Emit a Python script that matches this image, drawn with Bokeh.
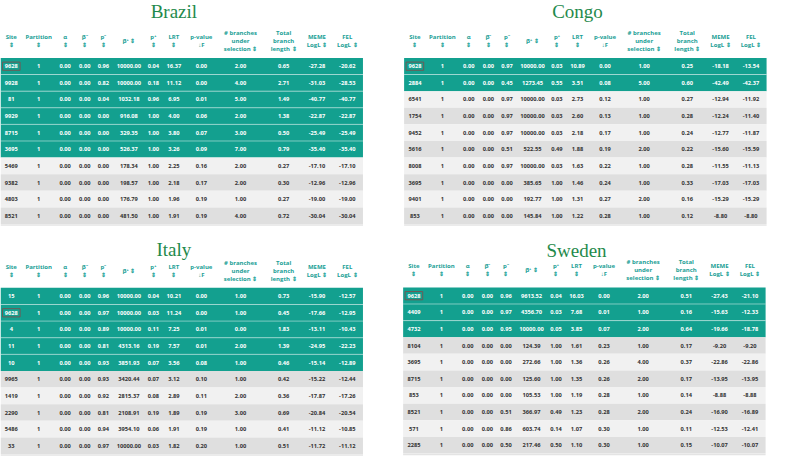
from bokeh.plotting import figure
from bokeh.models import Range1d, ColumnDataSource
from bokeh.embed import file_html
from bokeh.resources import INLINE
from bokeh.core.properties import value

# ---------------- data ----------------
headers = [["Site", "⇕"], ["Partition", "⇕"], ["α", "⇕"], ["β⁻", "⇕"], ["p⁻", "⇕"],
           ["β⁺ ⇕"], ["p⁺", "⇕"], ["LRT", "⇕"], ["p-value", "↓F"],
           ["# branches", "under", "selection ⇕"], ["Total", "branch", "length ⇕"],
           ["MEME", "LogL ⇕"], ["FEL", "LogL ⇕"]]

brazil_site = [9628, 9928, 81, 9929, 8715, 3695, 5469, 9382, 4803, 8521]
brazil_partition = [1, 1, 1, 1, 1, 1, 1, 1, 1, 1]
brazil_alpha = [0.00] * 10
brazil_beta_minus = [0.00] * 10
brazil_p_minus = [0.96, 0.82, 0.04, 0.00, 0.00, 0.00, 0.00, 0.00, 0.00, 0.00]
brazil_beta_plus = [10000.00, 10000.00, 1032.18, 916.08, 329.35, 526.37, 178.34, 198.57, 176.79, 481.50]
brazil_p_plus = [0.04, 0.18, 0.96, 1.00, 1.00, 1.00, 1.00, 1.00, 1.00, 1.00]
brazil_lrt = [16.37, 11.12, 6.95, 4.00, 3.80, 3.26, 2.25, 2.18, 1.96, 1.91]
brazil_pvalue = [0.00, 0.00, 0.01, 0.06, 0.07, 0.09, 0.16, 0.17, 0.19, 0.19]
brazil_branches = [2.00, 4.00, 5.00, 2.00, 3.00, 7.00, 2.00, 2.00, 1.00, 4.00]
brazil_length = [0.65, 2.71, 1.49, 1.38, 0.50, 0.79, 0.27, 0.30, 0.27, 0.72]
brazil_meme = [-27.28, -31.03, -40.77, -22.87, -25.49, -35.40, -17.10, -12.96, -19.00, -30.04]
brazil_fel = [-20.62, -28.53, -40.77, -22.87, -25.49, -35.40, -17.10, -12.96, -19.00, -30.04]

congo_site = [9628, 2884, 6541, 1754, 9452, 5616, 8008, 3695, 9401, 853]
congo_partition = [1, 1, 1, 1, 1, 1, 1, 1, 1, 1]
congo_alpha = [0.00] * 10
congo_beta_minus = [0.00] * 10
congo_p_minus = [0.97, 0.45, 0.97, 0.97, 0.97, 0.51, 0.97, 0.00, 0.00, 0.00]
congo_beta_plus = [10000.00, 1273.45, 10000.00, 10000.00, 10000.00, 522.55, 10000.00, 385.65, 192.77, 145.84]
congo_p_plus = [0.03, 0.55, 0.03, 0.03, 0.03, 0.49, 0.03, 1.00, 1.00, 1.00]
congo_lrt = [10.89, 3.51, 2.73, 2.60, 2.18, 1.88, 1.63, 1.46, 1.31, 1.22]
congo_pvalue = [0.00, 0.08, 0.12, 0.13, 0.17, 0.19, 0.22, 0.24, 0.27, 0.28]
congo_branches = [1.00, 5.00, 1.00, 1.00, 1.00, 2.00, 1.00, 1.00, 2.00, 1.00]
congo_length = [0.25, 0.60, 0.27, 0.28, 0.24, 0.22, 0.28, 0.33, 0.16, 0.12]
congo_meme = [-18.18, -42.49, -12.94, -12.24, -12.77, -15.60, -11.55, -17.03, -15.29, -8.80]
congo_fel = [-13.54, -42.37, -11.92, -11.40, -11.87, -15.59, -11.13, -17.03, -15.29, -8.80]

italy_site = [15, 9628, 4, 11, 10, 9965, 1419, 2290, 5486, 33]
italy_partition = [1, 1, 1, 1, 1, 1, 1, 1, 1, 1]
italy_alpha = [0.00] * 10
italy_beta_minus = [0.00] * 10
italy_p_minus = [0.96, 0.97, 0.89, 0.81, 0.93, 0.93, 0.92, 0.81, 0.94, 0.97]
italy_beta_plus = [10000.00, 10000.00, 10000.00, 4313.16, 3851.93, 3420.44, 2815.37, 2108.91, 3954.10, 10000.00]
italy_p_plus = [0.04, 0.03, 0.11, 0.19, 0.07, 0.07, 0.08, 0.19, 0.06, 0.03]
italy_lrt = [10.21, 11.24, 7.25, 7.57, 3.56, 3.12, 2.89, 1.89, 1.91, 1.82]
italy_pvalue = [0.00, 0.00, 0.01, 0.01, 0.08, 0.10, 0.11, 0.19, 0.19, 0.20]
italy_branches = [1.00, 1.00, 0.00, 2.00, 1.00, 1.00, 2.00, 3.00, 1.00, 1.00]
italy_length = [0.73, 0.45, 1.83, 1.39, 0.46, 0.42, 0.36, 0.69, 0.41, 0.51]
italy_meme = [-15.90, -17.66, -13.11, -24.95, -15.14, -15.22, -17.87, -20.84, -11.12, -11.72]
italy_fel = [-12.57, -12.95, -10.43, -22.23, -12.89, -12.44, -17.26, -20.54, -10.85, -11.12]

sweden_site = [9628, 4409, 4732, 8104, 3695, 8715, 853, 8521, 571, 2285]
sweden_partition = [1, 1, 1, 1, 1, 1, 1, 1, 1, 1]
sweden_alpha = [0.00] * 10
sweden_beta_minus = [0.00] * 10
sweden_p_minus = [0.96, 0.97, 0.95, 0.00, 0.00, 0.00, 0.00, 0.51, 0.86, 0.50]
sweden_beta_plus = [9613.52, 4356.70, 10000.00, 124.39, 272.66, 125.60, 105.53, 366.97, 603.74, 217.46]
sweden_p_plus = [0.04, 0.03, 0.05, 1.00, 1.00, 1.00, 1.00, 0.49, 0.14, 0.50]
sweden_lrt = [16.03, 7.68, 3.85, 1.61, 1.36, 1.35, 1.19, 1.23, 1.07, 1.10]
sweden_pvalue = [0.00, 0.01, 0.07, 0.23, 0.26, 0.26, 0.28, 0.28, 0.30, 0.30]
sweden_branches = [2.00, 1.00, 2.00, 1.00, 4.00, 2.00, 1.00, 2.00, 1.00, 1.00]
sweden_length = [0.51, 0.16, 0.64, 0.17, 0.37, 0.17, 0.14, 0.24, 0.11, 0.15]
sweden_meme = [-27.43, -15.63, -19.66, -9.20, -22.86, -13.95, -8.88, -16.90, -12.53, -10.07]
sweden_fel = [-21.10, -12.33, -18.78, -9.20, -22.86, -13.95, -8.88, -16.89, -12.41, -10.07]

# number of highlighted (significant) rows and the boxed site row
highlighted = {"Brazil": 6, "Congo": 2, "Italy": 5, "Sweden": 3}
boxed_row = {"Brazil": 0, "Congo": 0, "Italy": 1, "Sweden": 0}

tables = {
    "Brazil": [brazil_site, brazil_partition, brazil_alpha, brazil_beta_minus, brazil_p_minus,
               brazil_beta_plus, brazil_p_plus, brazil_lrt, brazil_pvalue, brazil_branches,
               brazil_length, brazil_meme, brazil_fel],
    "Congo": [congo_site, congo_partition, congo_alpha, congo_beta_minus, congo_p_minus,
              congo_beta_plus, congo_p_plus, congo_lrt, congo_pvalue, congo_branches,
              congo_length, congo_meme, congo_fel],
    "Italy": [italy_site, italy_partition, italy_alpha, italy_beta_minus, italy_p_minus,
              italy_beta_plus, italy_p_plus, italy_lrt, italy_pvalue, italy_branches,
              italy_length, italy_meme, italy_fel],
    "Sweden": [sweden_site, sweden_partition, sweden_alpha, sweden_beta_minus, sweden_p_minus,
               sweden_beta_plus, sweden_p_plus, sweden_lrt, sweden_pvalue, sweden_branches,
               sweden_length, sweden_meme, sweden_fel],
}

# ---------------- layout / style ----------------
TEAL = "#13a08f"
HEAD = "#1aa096"
LIGHT = "#f1f1f1"
DARK = "#dfdfdf"
TITLE = "#1f8a4c"
FONT = "Open Sans"

left = {"Brazil": 0, "Congo": 412, "Italy": 0, "Sweden": 411}
row1 = {"Brazil": 68, "Congo": 68, "Italy": 306, "Sweden": 305.5}
title_y = {"Brazil": 11, "Congo": 11, "Italy": 258, "Sweden": 258.5}
TW = 370
PITCH = 17.2
col_x = [11, 39, 66, 86, 105, 131, 156, 177, 205, 245, 289, 323, 354]

p = figure(width=770, height=458, output_backend="svg", toolbar_location=None,
           x_range=Range1d(0, 786), y_range=Range1d(474, 0),
           min_border=0, background_fill_color="white", border_fill_color="white")
p.axis.visible = False
p.grid.visible = False
p.outline_line_color = None


def fmt(ci, v):
    if ci in (0, 1):
        return str(v)
    return f"{v:.2f}"


bg = dict(l=[], r=[], t=[], b=[], c=[])
sep = dict(x0=[], x1=[], y=[])
cells = dict(x=[], y=[], t=[], c=[])
heads = dict(x=[], y=[], t=[])
titles = dict(x=[], y=[], t=[])
boxes = dict(x=[], y=[])
bottoms = dict(x0=[], x1=[], y=[])

for name, cols in tables.items():
    L = left[name]
    y0 = row1[name]
    n = len(cols[0])
    nh = highlighted[name]
    titles["x"].append(L + 177)
    titles["y"].append(title_y[name])
    titles["t"].append(name)
    for ci, lines in enumerate(headers):
        k = len(lines)
        for li, line in enumerate(lines):
            heads["x"].append(L + col_x[ci])
            heads["y"].append(y0 - 26.4 + (li - (k - 1) / 2) * 8.4)
            heads["t"].append(line)
    for i in range(n):
        yc = y0 + i * PITCH
        bg["l"].append(L)
        bg["r"].append(L + TW)
        bg["t"].append(yc - PITCH / 2)
        bg["b"].append(yc + PITCH / 2)
        if i < nh:
            bg["c"].append(TEAL)
            tc = "white"
            if i > 0:
                sep["x0"].append(L)
                sep["x1"].append(L + TW)
                sep["y"].append(yc - PITCH / 2)
        else:
            bg["c"].append(LIGHT if i % 2 == 0 else DARK)
            tc = "#333333"
        for ci, col in enumerate(cols):
            cells["x"].append(L + col_x[ci])
            cells["y"].append(yc)
            cells["t"].append(fmt(ci, col[i]))
            cells["c"].append(tc)
    boxes["x"].append(L + col_x[0])
    boxes["y"].append(y0 + boxed_row[name] * PITCH)
    bottoms["x0"].append(L)
    bottoms["x1"].append(L + TW)
    bottoms["y"].append(y0 + (n - 0.5) * PITCH + 1)

p.quad(left="l", right="r", top="t", bottom="b", fill_color="c", line_color=None,
       source=ColumnDataSource(bg))
p.segment(x0="x0", x1="x1", y0="y", y1="y", line_color="white", line_alpha=0.45,
          line_width=1, source=ColumnDataSource(sep))
p.segment(x0="x0", x1="x1", y0="y", y1="y", line_color="#e4e4e4", line_width=1.5,
          source=ColumnDataSource(bottoms))
p.text(x="x", y="y", text="t", text_color="c", text_font=value(FONT), text_font_style="bold",
       text_font_size="5.7px", text_align="center", text_baseline="middle",
       source=ColumnDataSource(cells))
p.rect(x="x", y="y", width=18, height=8.5, fill_color=None, line_color="#6e5a56",
       line_width=1, source=ColumnDataSource(boxes))
p.text(x="x", y="y", text="t", text_color=HEAD, text_font=value(FONT), text_font_style="bold",
       text_font_size="6px", text_align="center", text_baseline="middle",
       source=ColumnDataSource(heads))
p.text(x="x", y="y", text="t", text_color=TITLE, text_font=value("Liberation Serif"),
       text_font_size="19px", text_align="center", text_baseline="middle",
       source=ColumnDataSource(titles))

open("out.html", "w").write(file_html(p, INLINE))
